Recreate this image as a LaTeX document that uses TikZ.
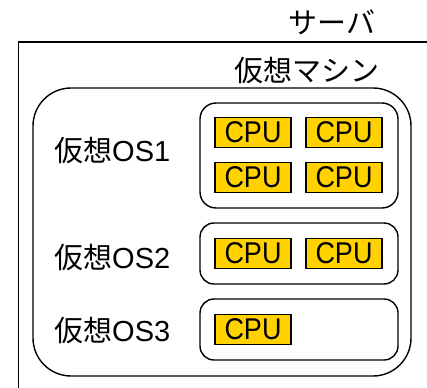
\documentclass[tikz,border=0pt]{standalone}
\usepackage{fontspec}
\setmainfont{Liberation Sans}
\newfontfamily\jp{Noto Sans CJK JP}
\newcommand{\cputext}{\raisebox{-2.5pt}{\scalebox{0.9}[1]{CPU}}}
\begin{document}
\begin{tikzpicture}[x=1pt,y=-1pt,
  box/.style={draw=black,line width=1.4pt,rounded corners=#1},
  cpu/.style={draw=black,line width=1.4pt,fill=cpugold,minimum width=76pt,minimum height=30pt,inner sep=0pt,font=\fontsize{30}{30}\selectfont},
  lbl/.style={inner sep=0pt,font=\fontsize{29}{29}\selectfont}]
\definecolor{cpugold}{HTML}{FFD200}
\useasboundingbox (0,0) rectangle (427,387);
\clip (0,0) rectangle (427,387);
\draw[line width=1.4pt] (18.5,420) coordinate (sbl) -- (18.5,42) -- (440,42) coordinate (str);
\node[lbl] (srv) at (332,22) {\jp サーバ};
\node[lbl] (vmlbl) at (307,71) {\jp 仮想マシン};
\draw[box=38pt] (33,88) rectangle (411,376);
% OS boxes
\draw[box=16pt] (200,103) rectangle (398,208);
\draw[box=14pt] (200,223) rectangle (398,284);
\draw[box=14pt] (200,299) rectangle (398,360);
\node[lbl,anchor=west] (os1) at (54,151) {{\jp 仮想}OS1};
\node[lbl,anchor=west] (os2) at (54,258) {{\jp 仮想}OS2};
\node[lbl,anchor=west] (os3) at (54,331) {{\jp 仮想}OS3};
% CPUs
\node[cpu] (c11) at (253,132.3) {\cputext};
\node[cpu] (c12) at (344,132.3) {\cputext};
\node[cpu] (c13) at (253,177.5) {\cputext};
\node[cpu] (c14) at (344,177.5) {\cputext};
\node[cpu] (c21) at (253,253.5) {\cputext};
\node[cpu] (c22) at (344,253.5) {\cputext};
\node[cpu] (c31) at (253,329.5) {\cputext};
\end{tikzpicture}
\end{document}
